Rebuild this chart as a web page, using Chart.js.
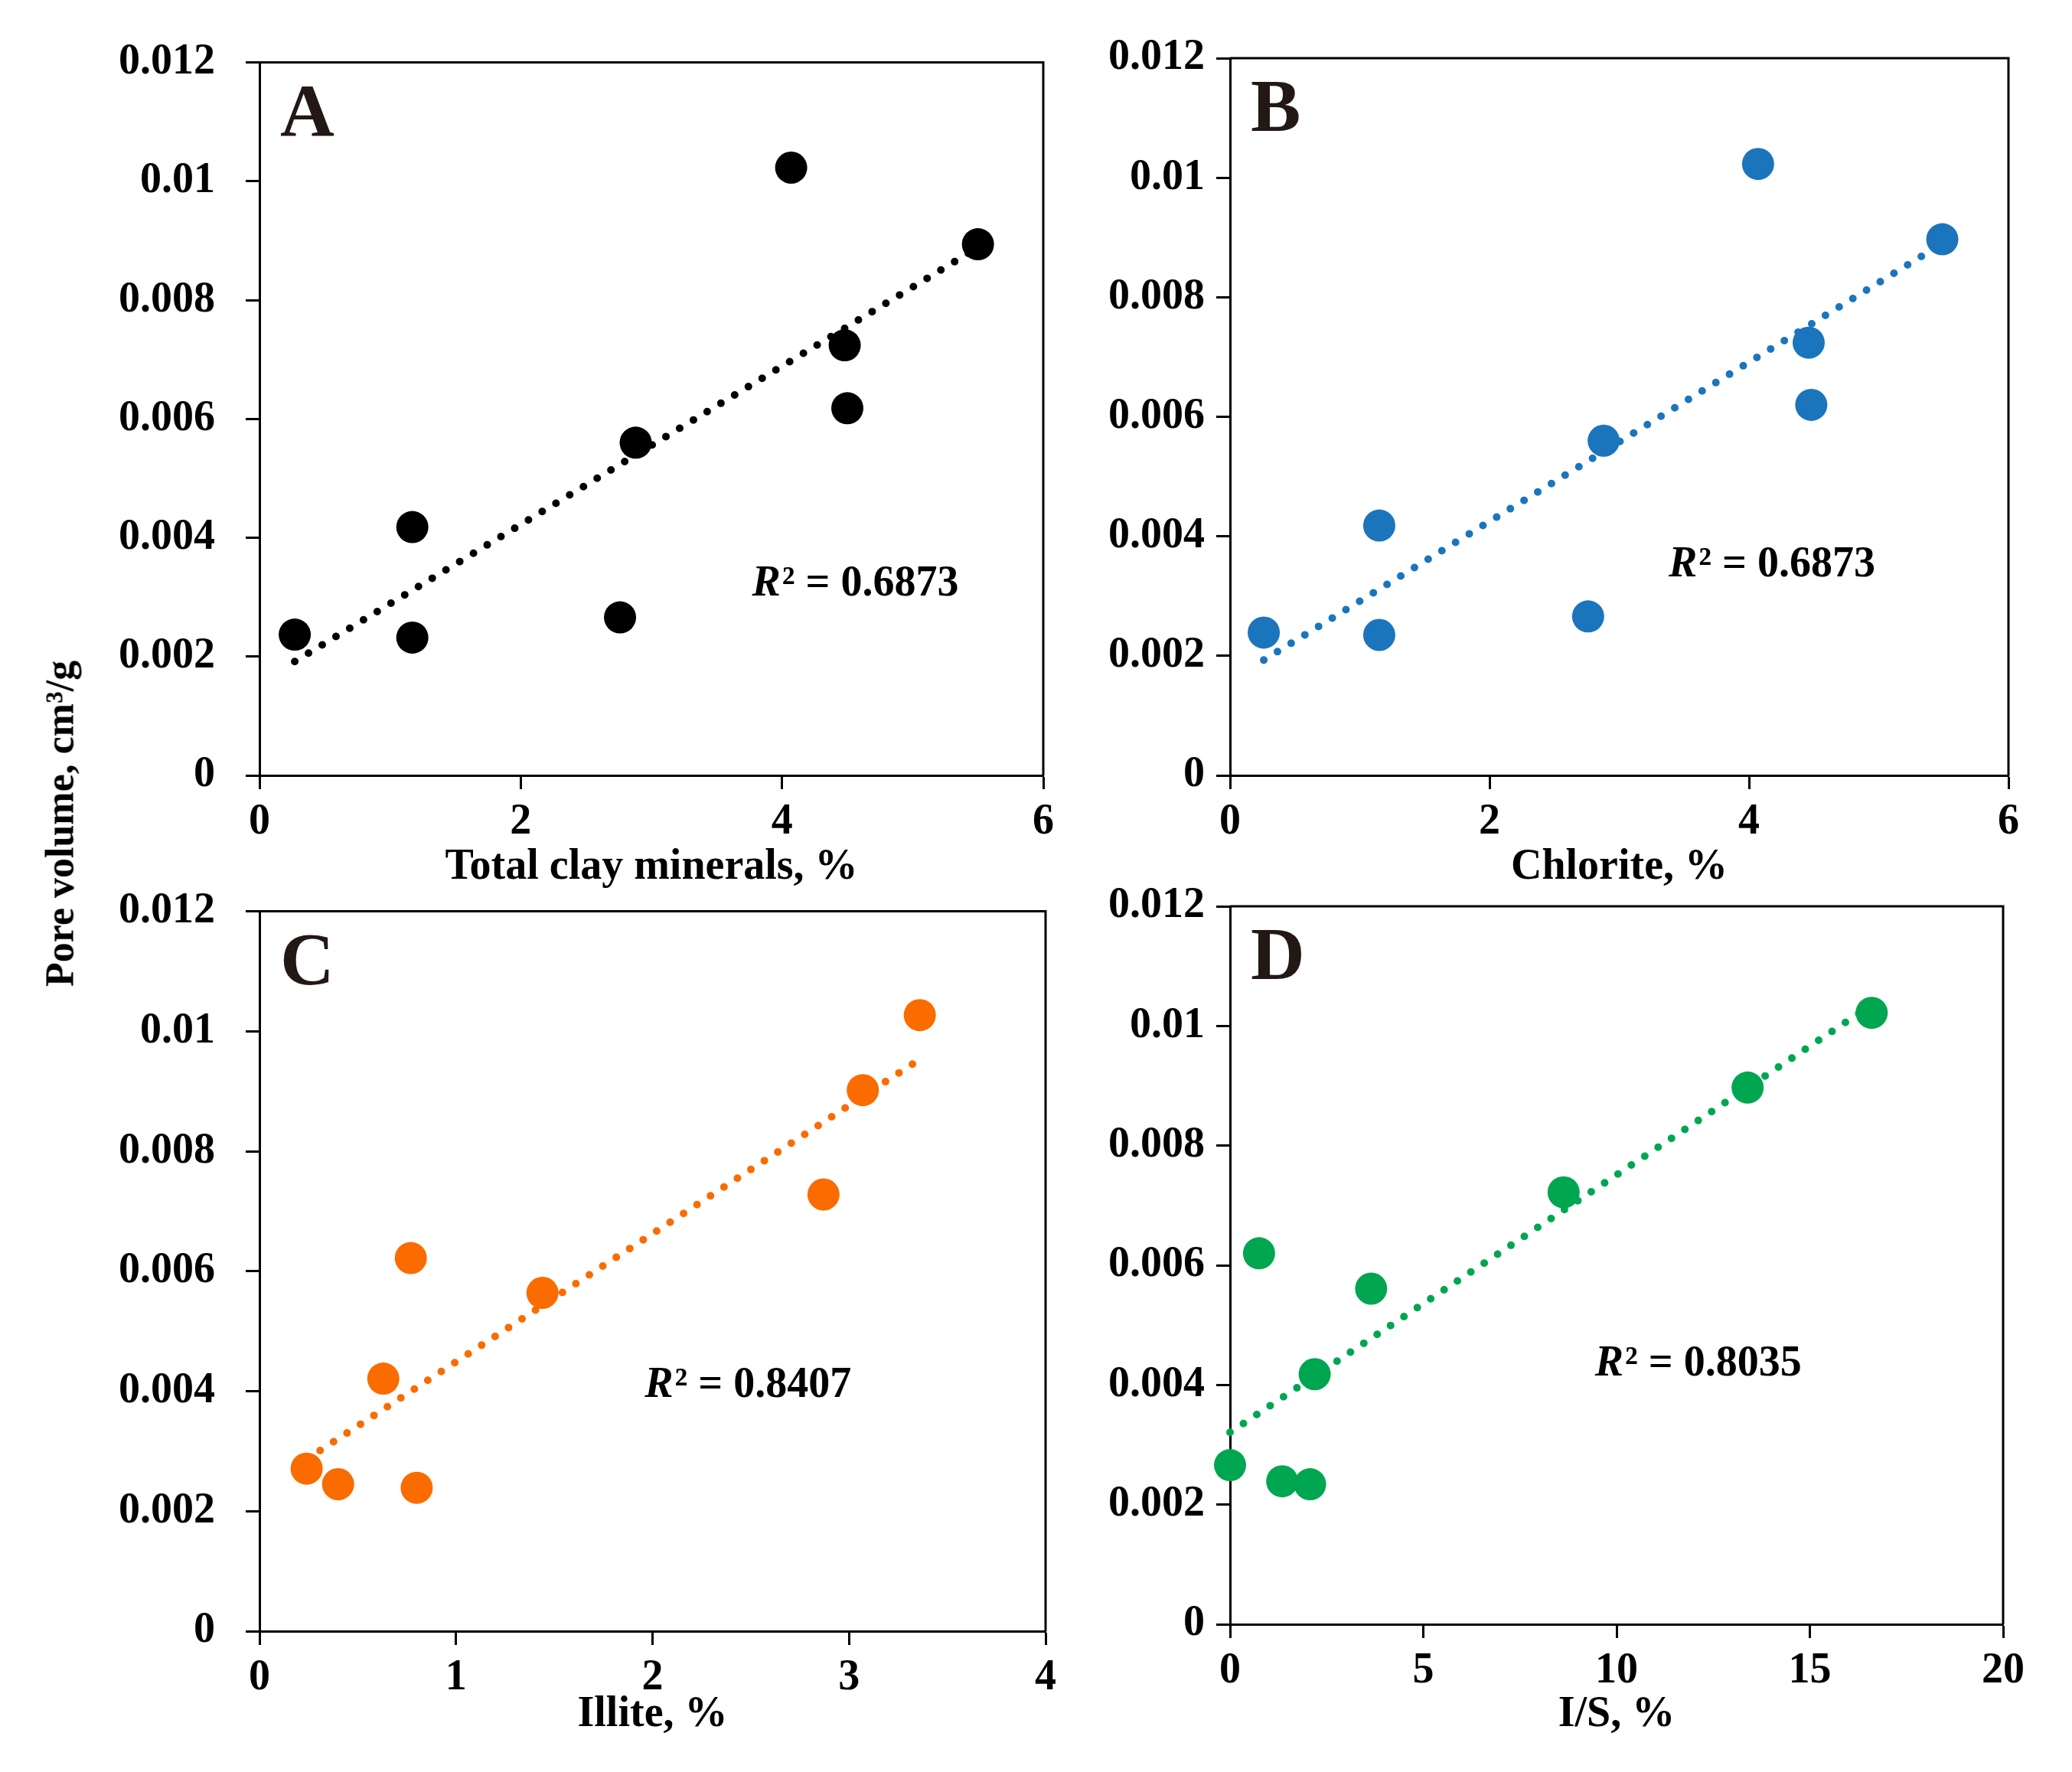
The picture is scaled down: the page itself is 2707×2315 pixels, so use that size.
<!DOCTYPE html>
<html>
<head>
<meta charset="utf-8">
<script src="https://cdn.jsdelivr.net/npm/chart.js@4.4.1/dist/chart.umd.min.js"></script>
<style>
  html, body { margin: 0; padding: 0; background: #fff; }
  #page { position: relative; width: 2707px; height: 2315px; background: #fff; overflow: hidden; }
  #page canvas { position: absolute; }
  #ytitle {
    position: absolute; left: 78px; top: 1076px;
    transform: translate(-50%, -50%) rotate(-90deg);
    font: bold 52px "Liberation Serif", "Times New Roman", serif;
    white-space: nowrap; color: #000;
  }
</style>
</head>
<body>
<div id="page">
  <canvas id="chartA"></canvas>
  <canvas id="chartB"></canvas>
  <canvas id="chartC"></canvas>
  <canvas id="chartD"></canvas>
  <div id="ytitle">Pore volume, cm³/g</div>
</div>
<script>
// Pore volume (cm3/g) against clay mineral content (%)
var clayX = [0.27, 1.17, 1.17, 2.76, 2.88, 4.07, 4.48, 4.50, 5.50];
var clayY = [0.00237, 0.00418, 0.00232, 0.00266, 0.00560, 0.01023, 0.00724, 0.00618, 0.00894];

var chloriteX = [0.26, 1.15, 1.15, 2.76, 2.88, 4.07, 4.46, 4.48, 5.49];
var chloriteY = [0.00239, 0.00418, 0.00235, 0.00266, 0.00560, 0.01023, 0.00724, 0.00620, 0.00897];

var illiteX = [0.24, 0.40, 0.63, 0.77, 0.80, 1.44, 2.87, 3.07, 3.36];
var illiteY = [0.00271, 0.00245, 0.00421, 0.00622, 0.00239, 0.00564, 0.00728, 0.00902, 0.01027];

var isX = [0, 1.35, 2.07, 0.75, 2.19, 3.65, 8.63, 13.39, 16.6];
var isY = [0.00266, 0.00239, 0.00234, 0.00620, 0.00418, 0.00561, 0.00722, 0.00897, 0.01022];

var yTicks = ['0', '0.002', '0.004', '0.006', '0.008', '0.01', '0.012'];
var r2Labels = ['0.6873', '0.6873', '0.8407', '0.8035'];

var FONT = '"Liberation Serif", "Times New Roman", serif';

// least squares line through the points, drawn from min x to max x
function trendLine(xs, ys) {
    var n = xs.length, mx = 0, my = 0;
    for (var i = 0; i < n; i++) { mx += xs[i]; my += ys[i]; }
    mx /= n; my /= n;
    var sxy = 0, sxx = 0;
    for (var j = 0; j < n; j++) {
        sxy += (xs[j] - mx) * (ys[j] - my);
        sxx += (xs[j] - mx) * (xs[j] - mx);
    }
    var b = sxy / sxx, a = my - b * mx;
    var x0 = Math.min.apply(null, xs), x1 = Math.max.apply(null, xs);
    return [{x: x0, y: a + b * x0}, {x: x1, y: a + b * x1}];
}

function toPoints(xs, ys) {
    return xs.map(function (x, i) { return {x: x, y: ys[i]}; });
}

// frame, panel letter and R² note
var panelDeco = {
    id: 'panelDeco',
    beforeDatasetsDraw: function (chart) {
        var a = chart.chartArea, ctx = chart.ctx;
        ctx.save();
        ctx.strokeStyle = '#000';
        ctx.lineWidth = 3;
        ctx.beginPath();
        ctx.moveTo(a.left, a.top);
        ctx.lineTo(a.right, a.top);
        ctx.lineTo(a.right, a.bottom);
        ctx.stroke();
        ctx.restore();
    },
    afterDatasetsDraw: function (chart, args, opts) {
        var a = chart.chartArea, ctx = chart.ctx;
        ctx.save();
        ctx.fillStyle = '#231815';
        ctx.textBaseline = 'alphabetic';
        ctx.textAlign = 'left';
        ctx.font = 'bold 98px ' + FONT;
        ctx.fillText(opts.letter, a.left + 27, a.top + 95);

        var px = chart.scales.x.getPixelForValue(opts.r2x);
        var py = chart.scales.y.getPixelForValue(opts.r2y);
        ctx.fillStyle = '#000';
        ctx.font = 'italic bold 56px ' + FONT;
        ctx.fillText('R', px, py);
        var w = ctx.measureText('R').width;
        ctx.font = 'bold 56px ' + FONT;
        ctx.fillText('² = ' + opts.r2, px + w + 2, py);
        ctx.restore();
    }
};

function makePanel(id, box, xs, ys, color, xMax, xStep, xTitle, extra) {
    var yW = 240, padTop = 70, padRight = 60;
    var canvas = document.getElementById(id);
    var left = box.L - yW, top = box.T - padTop;
    var width = box.R + padRight - left, height = box.B + box.xH - top;
    canvas.width = width; canvas.height = height;
    canvas.style.left = left + 'px'; canvas.style.top = top + 'px';
    canvas.style.width = width + 'px'; canvas.style.height = height + 'px';

    return new Chart(canvas.getContext('2d'), {
        type: 'scatter',
        data: {
            datasets: [
                {
                    data: toPoints(xs, ys),
                    backgroundColor: color,
                    borderWidth: 0,
                    pointRadius: 21,
                    pointHoverRadius: 21,
                    clip: false
                },
                {
                    type: 'line',
                    data: trendLine(xs, ys),
                    borderColor: color,
                    borderWidth: 10,
                    borderDash: [0, 21],
                    borderCapStyle: 'round',
                    pointRadius: 0,
                    fill: false,
                    clip: false
                }
            ]
        },
        options: {
            responsive: false,
            animation: false,
            devicePixelRatio: 1,
            layout: { padding: { left: 0, top: padTop, right: padRight, bottom: 0 } },
            scales: {
                x: {
                    type: 'linear',
                    min: 0, max: xMax,
                    afterFit: function (s) { s.height = box.xH; },
                    ticks: { stepSize: xStep, padding: 10, color: '#000',
                             font: { family: FONT, size: 56, weight: 'bold' } },
                    grid: { drawOnChartArea: false, tickLength: 18, tickWidth: 3, tickColor: '#000' },
                    border: { color: '#000', width: 3 },
                    title: { display: true, text: xTitle, color: '#000', padding: 0,
                             font: { family: FONT, size: 56, weight: 'bold' } }
                },
                y: {
                    type: 'linear',
                    min: 0, max: 0.012,
                    afterFit: function (s) { s.width = yW; },
                    ticks: { stepSize: 0.002, padding: box.yPad, color: '#000',
                             font: { family: FONT, size: 56, weight: 'bold' },
                             callback: function (v, i) { return yTicks[i]; } },
                    grid: { drawOnChartArea: false, tickLength: 18, tickWidth: 3, tickColor: '#000' },
                    border: { color: '#000', width: 3 }
                }
            },
            plugins: {
                legend: { display: false },
                tooltip: { enabled: false },
                panelDeco: extra
            }
        },
        plugins: [panelDeco]
    });
}

makePanel('chartA', {L: 339, T: 78, R: 1363, B: 1013, xH: 154, yPad: 40},
    clayX, clayY, '#000000', 6, 2, 'Total clay minerals, %',
    {letter: 'A', r2: r2Labels[0], r2x: 3.77, r2y: 0.00303});

makePanel('chartB', {L: 1607, T: 76, R: 2624, B: 1013, xH: 154, yPad: 15},
    chloriteX, chloriteY, '#1B75BC', 6, 2, 'Chlorite, %',
    {letter: 'B', r2: r2Labels[1], r2x: 3.38, r2y: 0.00333});

makePanel('chartC', {L: 339, T: 1187, R: 1366, B: 2131, xH: 143, yPad: 40},
    illiteX, illiteY, '#FA6B00', 4, 1, 'Illite, %',
    {letter: 'C', r2: r2Labels[2], r2x: 1.96, r2y: 0.0039});

makePanel('chartD', {L: 1607, T: 1184, R: 2617, B: 2122, xH: 152, yPad: 15},
    isX, isY, '#00A650', 20, 5, 'I/S, %',
    {letter: 'D', r2: r2Labels[3], r2x: 9.44, r2y: 0.00416});
</script>
</body>
</html>
